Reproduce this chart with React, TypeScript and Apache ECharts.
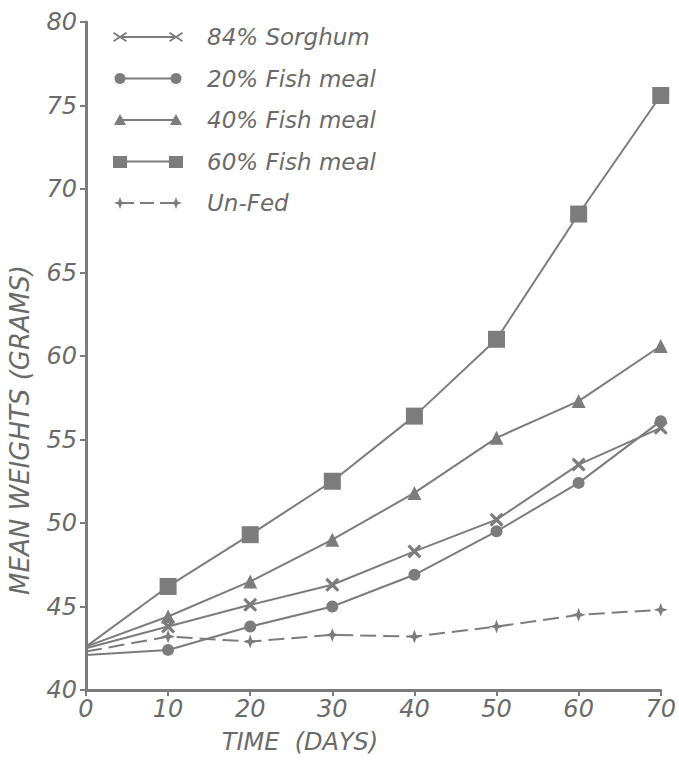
import React, { useEffect, useRef } from "react";
import * as echarts from "echarts";

const days = [0, 10, 20, 30, 40, 50, 60, 70];
const seriesNames = ["84% Sorghum", "20% Fish meal", "40% Fish meal", "60% Fish meal", "Un-Fed"];
const sorghum = [42.5, 43.8, 45.1, 46.3, 48.3, 50.2, 53.5, 55.7];
const fish20 = [42.1, 42.4, 43.8, 45.0, 46.9, 49.5, 52.4, 56.1];
const fish40 = [42.6, 44.4, 46.5, 49.0, 51.8, 55.1, 57.3, 60.6];
const fish60 = [42.6, 46.2, 49.3, 52.5, 56.4, 61.0, 68.5, 75.6];
const unfed = [42.3, 43.2, 42.9, 43.3, 43.2, 43.8, 44.5, 44.8];
const yTicks = [40, 45, 50, 55, 60, 65, 70, 75, 80];
const xTicks = [0, 10, 20, 30, 40, 50, 60, 70];

const GRAY = "#7c7c7c";
const TEXT = "#6a6a6a";
const FONT = "DejaVu Sans";

const X_PATH = "path://M1.5,0 L5,3.3 L8.5,0 L10,1.5 L6.7,5 L10,8.5 L8.5,10 L5,6.7 L1.5,10 L0,8.5 L3.3,5 L0,1.5 Z";
const STAR_PATH = "path://M5,0 L6.3,3.7 L10,5 L6.3,6.3 L5,10 L3.7,6.3 L0,5 L3.7,3.7 Z";

const symbols = [X_PATH, "circle", "triangle", "rect", STAR_PATH];
const symbolSizes = [14, 12, 14, 17, 14];
const allValues = [sorghum, fish20, fish40, fish60, unfed];

function legendMarker(kind: number, cx: number, cy: number): any {
  const style = { fill: GRAY };
  if (kind === 1) return { type: "circle", shape: { cx, cy, r: 5.5 }, style };
  if (kind === 2)
    return { type: "polygon", shape: { points: [[cx - 6, cy + 5], [cx + 6, cy + 5], [cx, cy - 6]] }, style };
  if (kind === 3) return { type: "rect", shape: { x: cx - 7, y: cy - 5.5, width: 14, height: 12 }, style };
  if (kind === 4)
    return {
      type: "polygon",
      shape: {
        points: [[cx, cy - 6], [cx + 1.6, cy - 1.6], [cx + 6, cy], [cx + 1.6, cy + 1.6], [cx, cy + 6], [cx - 1.6, cy + 1.6], [cx - 6, cy], [cx - 1.6, cy - 1.6]],
      },
      style,
    };
  return {
    type: "polygon",
    shape: {
      points: [[cx - 6, cy - 5], [cx, cy - 1], [cx + 6, cy - 5], [cx + 7, cy - 3.5], [cx + 1.8, cy], [cx + 7, cy + 3.5], [cx + 6, cy + 5], [cx, cy + 1], [cx - 6, cy + 5], [cx - 7, cy + 3.5], [cx - 1.8, cy], [cx - 7, cy - 3.5]],
    },
    style,
  };
}

export default function App() {
  const ref = useRef<HTMLDivElement>(null);
  useEffect(() => {
    if (!ref.current) return;
    const chart = echarts.init(ref.current, null, { renderer: "svg" });

    const legendGraphics: any[] = [];
    seriesNames.forEach((name, i) => {
      const y = 37 + i * 41.5;
      legendGraphics.push({
        type: "line",
        shape: { x1: 120, y1: y, x2: 176, y2: y },
        style: { stroke: GRAY, lineWidth: 2, lineDash: i === 4 ? [14, 6] : null },
      });
      legendGraphics.push(legendMarker(i, 120, y));
      legendGraphics.push(legendMarker(i, 176, y));
      legendGraphics.push({
        type: "text",
        x: 207,
        y,
        style: {
          text: name,
          fill: TEXT,
          font: `italic 500 23px "${FONT}"`,
          verticalAlign: "middle",
        },
      });
    });

    const option: any = {
      animation: false,
      backgroundColor: "#ffffff",
      grid: { left: 86, right: 12, top: 22, bottom: 74, containLabel: false },
      xAxis: {
        type: "value",
        min: xTicks[0],
        max: xTicks[xTicks.length - 1],
        interval: 10,
        axisLine: { show: true, lineStyle: { color: GRAY, width: 3 } },
        axisTick: { show: true, length: 6, lineStyle: { color: GRAY, width: 2 } },
        axisLabel: { color: TEXT, fontSize: 24, fontStyle: "italic", fontFamily: FONT, margin: 7 },
        splitLine: { show: false },
      },
      yAxis: {
        type: "value",
        min: yTicks[0],
        max: yTicks[yTicks.length - 1],
        interval: 5,
        axisLine: { show: true, lineStyle: { color: GRAY, width: 3 } },
        axisTick: { show: true, length: 6, lineStyle: { color: GRAY, width: 2 } },
        axisLabel: { color: TEXT, fontSize: 24, fontStyle: "italic", fontFamily: FONT, margin: 9 },
        splitLine: { show: false },
      },
      graphic: [
        ...legendGraphics,
        {
          type: "text",
          x: 20,
          y: 430,
          rotation: Math.PI / 2,
          style: {
            text: "MEAN WEIGHTS (GRAMS)",
            fill: TEXT,
            font: `italic 26px "${FONT}"`,
            align: "center",
            verticalAlign: "middle",
          },
        },
        {
          type: "text",
          x: 300,
          y: 742,
          style: {
            text: "TIME  (DAYS)",
            fill: TEXT,
            font: `italic 24px "${FONT}"`,
            align: "center",
            verticalAlign: "middle",
          },
        },
      ],
      series: seriesNames.map((name, i) => ({
        name,
        type: "line",
        data: days.map((d, k) => ({
          value: [d, allValues[i][k]],
          symbolSize: d === 0 ? 0 : symbolSizes[i],
        })),
        symbol: symbols[i],
        symbolSize: symbolSizes[i],
        showAllSymbol: true,
        itemStyle: { color: GRAY },
        lineStyle: { color: GRAY, width: 2, type: i === 4 ? [16, 7] : "solid" },
        z: 2 + i,
      })),
    };
    chart.setOption(option);
    return () => chart.dispose();
  }, []);
  return (
    <div
      ref={ref}
      style={{ position: "fixed", left: 0, top: 0, width: 679, height: 764, background: "#fff" }}
    />
  );
}
